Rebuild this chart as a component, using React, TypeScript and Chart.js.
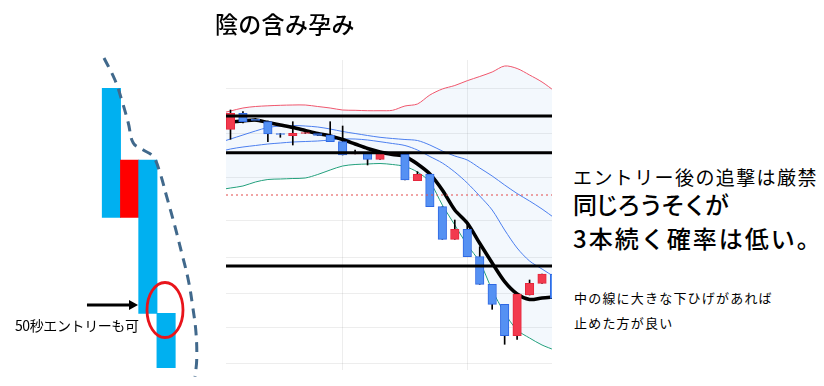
import React, { useEffect, useRef } from "react";
import { Chart, registerables } from "chart.js";
Chart.register(...registerables);

// ---------- candlestick chart data ----------
const candleIndex = [1, 2, 3, 4, 5, 6, 7, 8, 9, 10, 11, 12, 13, 14, 15, 16, 17, 18, 19, 20, 21, 22, 23, 24, 25, 26, 27];
const opens = [270.7, 286.7, 280.7, 278.3, 266.5, 264.3, 266.5, 266.5, 265, 258.3, 246, 246.7, 240.7, 246, 245.7, 219.3, 226, 193.3, 160.7, 170.7, 143.3, 115.7, 95.7, 64.3, 105, 116.7, 126];
const closes = [286.7, 278.3, 279.7, 266, 265.5, 266.7, 267.5, 264.5, 258.3, 245, 247, 240.7, 246.7, 247.3, 220, 225.7, 193.3, 160.7, 170.7, 143.3, 115.7, 95.7, 64.3, 106, 116.7, 126, 101.7];
const highs = [290, 288.3, 281.5, 279, 266.5, 278.3, 267.5, 266.5, 278.3, 274, 250, 246.7, 246.7, 247.3, 245.7, 228.3, 226, 193.3, 180, 175.5, 153.3, 115.7, 95.7, 106, 120, 126, 126];
const lows = [260.7, 277, 279, 258.3, 262.7, 255, 266.5, 264.5, 258.3, 245, 246, 235, 240.7, 246, 220, 219.3, 193.3, 160.7, 160.7, 143.3, 115.7, 90.7, 55.7, 60.7, 105, 116.7, 101.7];

const lineIndex = [0, 1, 2, 3, 4, 5, 6, 7, 8, 9, 10, 11, 12, 13, 14, 15, 16, 17, 18, 19, 20, 21, 22, 23, 24, 25, 26, 27];
const upperBand = [286, 289, 292, 293.5, 294.2, 294.7, 295, 295, 293.5, 292, 290, 289.7, 289.3, 289.3, 289.7, 294, 296, 305, 311, 314.5, 319.3, 323.5, 328, 334, 331.5, 325, 318, 309];
const blueLine1 = [257, 261, 265, 269, 272.5, 274, 274.5, 274, 273, 271, 268.5, 266.5, 264.5, 262.7, 261.5, 260.5, 259.5, 255, 249, 244, 240, 232, 224, 215, 206.5, 199, 191, 182];
const blueLine2 = [248, 251, 253, 254.5, 256, 257, 258, 258.5, 259, 260, 261, 261, 260, 258.3, 256.5, 254.5, 250, 243.5, 237, 228, 217, 204, 190, 170, 152, 139, 131, 123];
const lowerBand = [210, 212, 214, 218, 220.5, 221, 221.5, 222, 225.5, 230, 234, 235.5, 236, 236.5, 235.5, 233.5, 228, 218, 195, 175, 155, 138, 110, 87, 70, 62, 55, 50];
const movingAverage = [null, 278, 279, 280, 277.5, 275, 272.5, 269.5, 266.5, 264, 260.5, 256, 251.5, 248, 245.5, 243.5, 236, 226, 210, 190, 177, 156.7, 137, 118.3, 106, 100.5, 102, 103];

const levelLines = [284, 247.3, 134];
const dottedLevel = [205];
const gridValuesX = [10, 20];
const gridValuesY = [311, 267, 223, 179, 143, 107, 73, 37];
const X_RANGE = [0.64, 26.8];
const Y_RANGE = [30, 340];

// ---------- schematic (left) data ----------
const schematicBars = [1, 2, 3, 4];
const schematicLows = [182.7, 182.7, 86.7, 32.3];
const schematicHighs = [311.7, 240, 240, 86.7];
const schematicColors = ["#00B0F0", "#FF0000", "#00B0F0", "#00B0F0"];
const dashX = [0.594, 1.197, 1.565, 1.927, 2.201, 2.75, 3.298, 3.666, 4.033, 4.489, 4.856, 5.218, 5.46, 5.641, 5.679, 5.586];
const dashY = [342, 320, 300, 277, 257, 250, 243.3, 227, 203.3, 173.3, 147, 120, 93.3, 67, 40, 23.3];
const arrowFrom = [-0.34, 95];
const arrowTo = [2.46, 95];
const ellipseCenter = [3.94, 90];
const S_X_RANGE = [-5.111, 6.957];
const S_Y_RANGE = [14, 400];

const FONT = '"Noto Sans CJK JP", "Noto Sans", sans-serif';

const schematicPlugin = {
  id: "schematicAnnotations",
  afterDatasetsDraw(chart: any) {
    const { ctx } = chart;
    const xs = chart.scales.x;
    const ys = chart.scales.y;
    ctx.save();
    // arrow
    const x1 = xs.getPixelForValue(arrowFrom[0]);
    const y1 = ys.getPixelForValue(arrowFrom[1]);
    const x2 = xs.getPixelForValue(arrowTo[0]);
    const y2 = ys.getPixelForValue(arrowTo[1]);
    ctx.strokeStyle = "#000";
    ctx.fillStyle = "#000";
    ctx.lineWidth = 3;
    ctx.beginPath();
    ctx.moveTo(x1, y1);
    ctx.lineTo(x2 - 7, y2);
    ctx.stroke();
    ctx.beginPath();
    ctx.moveTo(x2, y2);
    ctx.lineTo(x2 - 9, y2 - 5);
    ctx.lineTo(x2 - 9, y2 + 5);
    ctx.closePath();
    ctx.fill();
    // ellipse
    const cx = xs.getPixelForValue(ellipseCenter[0]);
    const cy = ys.getPixelForValue(ellipseCenter[1]);
    ctx.strokeStyle = "#E8141B";
    ctx.lineWidth = 2.8;
    ctx.beginPath();
    ctx.ellipse(cx, cy, 18, 27.5, 0, 0, Math.PI * 2);
    ctx.stroke();
    ctx.restore();
  },
};

export default function App() {
  const leftRef = useRef<HTMLCanvasElement>(null);
  const mainRef = useRef<HTMLCanvasElement>(null);

  useEffect(() => {
    const left = new Chart(leftRef.current as HTMLCanvasElement, {
      type: "line",
      data: {
        datasets: [
          {
            type: "line",
            data: dashX.map((x, i) => ({ x, y: dashY[i] })),
            borderColor: "#41698C",
            borderWidth: 3,
            borderDash: [10, 7],
            pointRadius: 0,
            tension: 0.4,
            fill: false,
            order: 0,
          } as any,
          {
            type: "bar",
            data: schematicBars.map((x, i) => ({ x, y: [schematicLows[i], schematicHighs[i]] })),
            backgroundColor: schematicColors,
            borderWidth: 0,
            barThickness: 18.4,
            grouped: false,
            order: 1,
          } as any,
        ],
      },
      options: {
        animation: false,
        responsive: false,
        maintainAspectRatio: false,
        events: [],
        layout: { padding: 0 },
        plugins: { legend: { display: false }, tooltip: { enabled: false } },
        scales: {
          x: { type: "linear", display: false, min: S_X_RANGE[0], max: S_X_RANGE[1], offset: false },
          y: { type: "linear", display: false, min: S_Y_RANGE[0], max: S_Y_RANGE[1] },
        },
      } as any,
      plugins: [schematicPlugin],
    });

    const line = (data: (number | null)[], color: string, width: number, order: number, extra: any = {}) => ({
      type: "line",
      data: lineIndex.map((x, i) => ({ x, y: data[i] })),
      borderColor: color,
      borderWidth: width,
      pointRadius: 0,
      tension: 0.3,
      fill: false,
      spanGaps: false,
      order,
      ...extra,
    });

    const levelSets = levelLines.map((v) => ({
      type: "line",
      data: [
        { x: X_RANGE[0], y: v },
        { x: X_RANGE[1], y: v },
      ],
      borderColor: "#000",
      borderWidth: 3,
      pointRadius: 0,
      fill: false,
      order: 0,
    }));
    const dottedSets = dottedLevel.map((v) => ({
      type: "line",
      data: [
        { x: X_RANGE[0], y: v },
        { x: X_RANGE[1], y: v },
      ],
      borderColor: "#E24A4A",
      borderWidth: 1,
      borderDash: [2, 3],
      pointRadius: 0,
      fill: false,
      order: 0,
    }));

    const up = closes.map((c, i) => c >= opens[i]);
    const datasets: any[] = [
      ...levelSets,
      ...dottedSets,
      {
        type: "bar",
        data: candleIndex.map((x, i) => ({ x, y: [opens[i], closes[i]] })),
        backgroundColor: up.map((u) => (u ? "#F23A4E" : "#5591F3")),
        borderColor: up.map((u) => (u ? "#E5283D" : "#2E68E3")),
        borderWidth: 1,
        borderSkipped: false,
        barThickness: 8.5,
        grouped: false,
        order: 1,
      },
      {
        type: "bar",
        data: candleIndex.map((x, i) => ({ x, y: [lows[i], highs[i]] })),
        backgroundColor: "#000",
        borderWidth: 0,
        barThickness: 1,
        grouped: false,
        order: 2,
      },
      line(movingAverage, "#000", 3.5, 3),
      line(blueLine1, "#4C7FEF", 1, 4),
      line(blueLine2, "#4C7FEF", 1, 4),
      line(lowerBand, "#22A07C", 1, 4),
    ];
    const lowerIdx = datasets.length - 1;
    datasets.push(
      line(upperBand, "#F0566C", 1, 5, {
        fill: { target: lowerIdx },
        backgroundColor: "rgba(40,120,220,0.055)",
      })
    );

    const main = new Chart(mainRef.current as HTMLCanvasElement, {
      type: "line",
      data: { datasets },
      options: {
        animation: false,
        responsive: false,
        maintainAspectRatio: false,
        events: [],
        layout: { padding: 0 },
        plugins: { legend: { display: false }, tooltip: { enabled: false } },
        scales: {
          x: {
            type: "linear",
            min: X_RANGE[0],
            max: X_RANGE[1],
            offset: false,
            afterBuildTicks: (axis: any) => {
              axis.ticks = gridValuesX.map((value) => ({ value }));
            },
            ticks: { display: false },
            border: { display: false },
            grid: { color: "rgba(0,0,0,0.07)", drawTicks: false, offset: false },
          },
          y: {
            type: "linear",
            min: Y_RANGE[0],
            max: Y_RANGE[1],
            afterBuildTicks: (axis: any) => {
              axis.ticks = gridValuesY.map((value) => ({ value }));
            },
            ticks: { display: false },
            border: { display: false },
            grid: { color: "rgba(0,0,0,0.07)", drawTicks: false },
          },
        },
      } as any,
    });

    return () => {
      left.destroy();
      main.destroy();
    };
  }, []);

  const text = (content: string, left: number, centerY: number, size: number, spacing = 0, weight = 400) => (
    <div
      style={{
        position: "absolute",
        left,
        top: centerY - size / 2,
        fontSize: size,
        lineHeight: `${size}px`,
        letterSpacing: spacing,
        fontWeight: weight,
        whiteSpace: "nowrap",
        color: "#000",
        fontFamily: FONT,
      }}
    >
      {content}
    </div>
  );

  return (
    <div
      style={{
        position: "fixed",
        left: 0,
        top: 0,
        width: 824,
        height: 386,
        background: "#fff",
        overflow: "hidden",
        fontFamily: FONT,
      }}
    >
      <canvas ref={leftRef} width={220} height={386} style={{ position: "absolute", left: 0, top: 0, width: 220, height: 386 }} />
      <canvas ref={mainRef} width={326} height={310} style={{ position: "absolute", left: 226, top: 60, width: 326, height: 310 }} />
      {text("陰の含み孕み", 215, 23, 23, 0.3, 500)}
      {text("50秒エントリーも可", 15, 325, 14, -0.4)}
      {text("エントリー後の追撃は厳禁", 573, 176, 19, 1.4)}
      {text("同じろうそくが", 573, 204, 24, -2, 500)}
      {text("3本続く確率は低い。", 573, 238, 24, 2, 500)}
      {text("中の線に大きな下ひげがあれば", 574, 297.5, 13, 1.2)}
      {text("止めた方が良い", 574, 322.5, 13, 1.2)}
    </div>
  );
}
